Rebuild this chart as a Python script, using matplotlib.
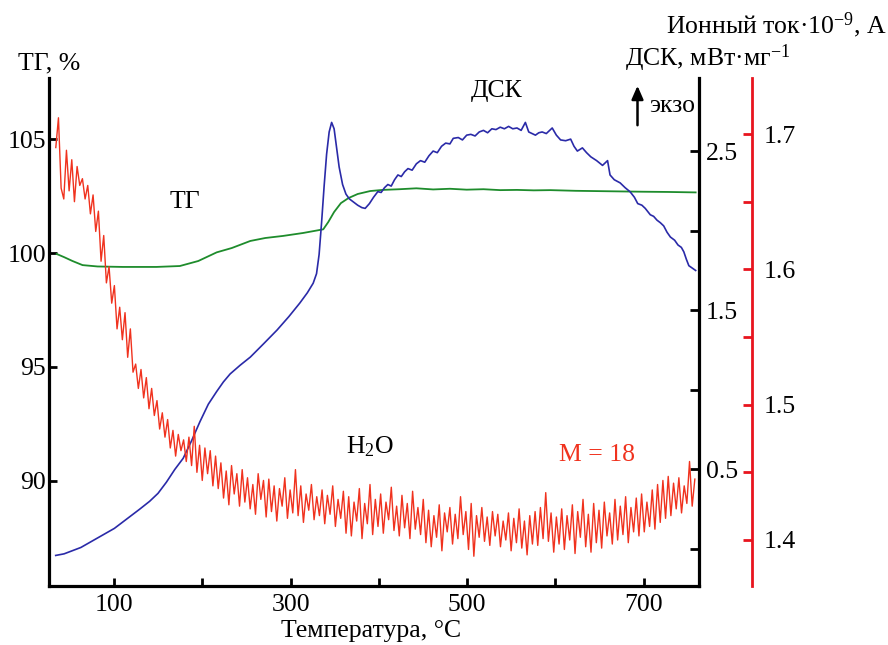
import matplotlib
matplotlib.use('Agg')
import matplotlib.pyplot as plt
import numpy as np

plt.rcParams['font.family'] = ['Liberation Serif', 'DejaVu Serif']
plt.rcParams['mathtext.fontset'] = 'custom'
plt.rcParams['mathtext.rm'] = 'Liberation Serif'
plt.rcParams['mathtext.it'] = 'Liberation Serif:italic'

# ---------------- data ----------------
# TG, %
tg_temp = [34.9, 43.4, 52.9, 64.3, 81.4, 109.9, 147.9, 174.5, 195.4, 216.3, 233.4,
           254.4, 271.4, 291.4, 314.2, 337.0, 342.7, 349.3, 357.0, 365.5, 376.0,
           390.2, 404.5, 423.5, 442.5, 461.5, 480.5, 499.5, 518.5, 537.5, 556.5,
           575.5, 594.5, 623.0, 661.0, 699.0, 727.5, 758.9]
tg_mass = [99.96, 99.82, 99.65, 99.47, 99.41, 99.39, 99.39, 99.43, 99.65, 100.03,
           100.22, 100.53, 100.66, 100.75, 100.88, 101.04, 101.36, 101.80, 102.19,
           102.41, 102.59, 102.72, 102.77, 102.80, 102.84, 102.79, 102.82, 102.78,
           102.80, 102.76, 102.77, 102.75, 102.76, 102.73, 102.71, 102.69, 102.68, 102.66]

# DSC, mW/mg
dsc_temp = [33.9, 43.4, 52.9, 62.4, 71.9, 81.4, 90.9, 100.4, 109.9, 119.4, 128.9,
            140.3, 149.8, 159.3, 168.8, 178.3, 187.8, 197.3, 206.8, 216.3, 223.9,
            231.5, 242.9, 254.4, 269.5, 284.7, 298.0, 310.4, 319.0, 325.6, 329.4,
            332.3, 335.1, 338.0, 340.8, 343.7, 346.5, 349.3, 352.2, 355.0, 358.9,
            362.7, 366.5, 371.2, 376.0, 380.7, 384.5, 389.3, 394.0, 398.8, 402.6,
            406.4, 410.2, 414.0, 417.8, 421.6, 425.4, 429.2, 433.0, 437.7, 442.5,
            447.2, 452.0, 456.7, 461.5, 466.2, 471.0, 475.7, 480.5, 484.3, 490.0,
            494.7, 499.5, 504.2, 509.0, 513.7, 518.5, 523.2, 528.0, 532.7, 537.5,
            542.2, 547.0, 551.7, 556.5, 561.2, 566.0, 569.8, 573.6, 577.4, 581.2,
            585.0, 589.7, 596.4, 601.1, 605.9, 611.6, 617.3, 621.1, 624.9, 630.6,
            635.3, 640.1, 646.7, 653.4, 659.1, 661.9, 666.7, 673.4, 679.0, 684.7,
            689.5, 693.3, 698.0, 701.8, 707.5, 711.3, 715.1, 718.9, 722.7, 726.5,
            730.3, 735.1, 738.9, 742.7, 745.5, 748.4, 751.2, 755.0, 758.9]
dsc_val = [-0.04, -0.03, -0.01, 0.01, 0.04, 0.07, 0.10, 0.13, 0.17, 0.21, 0.25,
           0.30, 0.35, 0.42, 0.50, 0.57, 0.68, 0.80, 0.91, 0.99, 1.05, 1.10, 1.155,
           1.206, 1.29, 1.376, 1.46, 1.545, 1.61, 1.67, 1.73, 1.85, 2.05, 2.28,
           2.48, 2.62, 2.68, 2.64, 2.52, 2.40, 2.29, 2.23, 2.20, 2.18, 2.16, 2.145,
           2.14, 2.17, 2.21, 2.245, 2.24, 2.27, 2.29, 2.28, 2.32, 2.35, 2.34, 2.37,
           2.39, 2.38, 2.42, 2.44, 2.43, 2.47, 2.50, 2.49, 2.53, 2.55, 2.545, 2.58,
           2.585, 2.57, 2.60, 2.605, 2.595, 2.62, 2.63, 2.615, 2.64, 2.635, 2.65,
           2.64, 2.655, 2.64, 2.645, 2.63, 2.68, 2.62, 2.61, 2.60, 2.615, 2.62,
           2.61, 2.645, 2.60, 2.57, 2.565, 2.575, 2.53, 2.50, 2.52, 2.49, 2.464,
           2.44, 2.41, 2.44, 2.35, 2.32, 2.30, 2.27, 2.244, 2.21, 2.17, 2.16, 2.14,
           2.10, 2.09, 2.066, 2.05, 2.03, 1.99, 1.96, 1.94, 1.91, 1.895, 1.867,
           1.82, 1.78, 1.765, 1.75]

# Ion current (M = 18), 1e-9 A, evenly sampled from 34 to 758 degC
ms_val = [
    1.690, 1.712, 1.660, 1.652, 1.688, 1.658, 1.681, 1.650, 1.676, 1.662,
    1.667, 1.652, 1.662, 1.641, 1.655, 1.628, 1.643, 1.606, 1.625, 1.590,
    1.602, 1.575, 1.588, 1.556, 1.572, 1.548, 1.568, 1.535, 1.556, 1.524,
    1.530, 1.512, 1.526, 1.505, 1.520, 1.497, 1.512, 1.492, 1.503, 1.482,
    1.494, 1.476, 1.489, 1.468, 1.481, 1.462, 1.478, 1.466, 1.474, 1.458,
    1.476, 1.455, 1.484, 1.450, 1.470, 1.444, 1.468, 1.449, 1.466, 1.440,
    1.462, 1.438, 1.457, 1.431, 1.451, 1.426, 1.455, 1.434, 1.449, 1.425,
    1.452, 1.428, 1.446, 1.423, 1.441, 1.419, 1.449, 1.430, 1.444, 1.417,
    1.445, 1.421, 1.440, 1.414, 1.438, 1.425, 1.446, 1.416, 1.437, 1.420,
    1.452, 1.418, 1.440, 1.413, 1.434, 1.422, 1.441, 1.415, 1.432, 1.418,
    1.437, 1.412, 1.433, 1.419, 1.440, 1.410, 1.430, 1.416, 1.436, 1.405,
    1.432, 1.403, 1.428, 1.414, 1.438, 1.401, 1.427, 1.412, 1.441, 1.404,
    1.430, 1.410, 1.434, 1.405, 1.428, 1.415, 1.439, 1.407, 1.425, 1.403,
    1.433, 1.409, 1.427, 1.401, 1.436, 1.408, 1.424, 1.404, 1.430, 1.398,
    1.422, 1.395, 1.418, 1.402, 1.426, 1.392, 1.420, 1.406, 1.424, 1.397,
    1.419, 1.401, 1.432, 1.404, 1.421, 1.393, 1.427, 1.388, 1.418, 1.402,
    1.424, 1.399, 1.417, 1.396, 1.421, 1.403, 1.419, 1.395, 1.414, 1.400,
    1.420, 1.392, 1.416, 1.398, 1.423, 1.394, 1.414, 1.389, 1.418, 1.397,
    1.421, 1.396, 1.424, 1.401, 1.435, 1.399, 1.420, 1.391, 1.417, 1.397,
    1.423, 1.393, 1.418, 1.400, 1.426, 1.390, 1.421, 1.402, 1.430, 1.395,
    1.419, 1.391, 1.427, 1.398, 1.422, 1.394, 1.428, 1.403, 1.420, 1.397,
    1.430, 1.400, 1.425, 1.404, 1.432, 1.398, 1.424, 1.406, 1.431, 1.403,
    1.434, 1.406, 1.428, 1.410, 1.437, 1.408, 1.441, 1.413, 1.444, 1.416,
    1.447, 1.418, 1.442, 1.423, 1.446, 1.420, 1.440, 1.427, 1.458, 1.425, 1.445]
ms_temp = np.linspace(34, 758, len(ms_val))

x_ticks = [100, 200, 300, 400, 500, 600, 700]
x_labels = ['100', '', '300', '', '500', '', '700']
tg_ticks = [90, 95, 100, 105]
dsc_ticks = [0.0, 0.5, 1.0, 1.5, 2.0, 2.5]
dsc_labels = ['', '0.5', '', '1.5', '', '2.5']
ms_ticks = [1.40, 1.45, 1.50, 1.55, 1.60, 1.65, 1.70]
ms_labels = ['1.4', '', '1.5', '', '1.6', '', '1.7']

# ---------------- styling ----------------
W, H = 888, 645
FS = 18.5
C_RED = '#f0321e'
C_RED_AX = '#e8141e'
C_BLUE = '#2a2aa8'
C_GREEN = '#1e8c2c'
LW_SP = 2.3

fig = plt.figure(figsize=(W / 100, H / 100), dpi=100)
ax = fig.add_axes([49 / W, 1 - 586 / H, (699 - 49) / W, (586 - 78) / H])
ax2 = ax.twinx()
ax3 = ax.twinx()

ax.plot(tg_temp, tg_mass, color=C_GREEN, lw=1.3, zorder=2)
ax2.plot(dsc_temp, dsc_val, color=C_BLUE, lw=1.2, zorder=2)
ax3.plot(ms_temp, ms_val, color=C_RED, lw=1.0, zorder=3)

ax.set_xlim(26.3, 762.7)
ax.set_ylim(85.39, 107.68)
ax2.set_ylim(-0.232, 2.959)
ax3.set_ylim(1.366, 1.7414)

for a in (ax, ax2, ax3):
    a.spines['top'].set_visible(False)
    a.patch.set_visible(False)

ax.spines['right'].set_visible(False)
ax.spines['left'].set_linewidth(LW_SP)
ax.spines['bottom'].set_linewidth(LW_SP)
for s in ('left', 'bottom'):
    ax2.spines[s].set_visible(False)
    ax3.spines[s].set_visible(False)
ax2.spines['right'].set_linewidth(LW_SP)
ax3.spines['right'].set_position(('outward', 38.5))
ax3.spines['right'].set_color(C_RED_AX)
ax3.spines['right'].set_linewidth(2.0)

ax.set_xticks(x_ticks)
ax.set_xticklabels(x_labels)
ax.set_yticks(tg_ticks)
ax.set_yticklabels([str(v) for v in tg_ticks])
ax.tick_params(axis='x', direction='in', length=6, width=2.0, labelsize=FS, pad=6)
ax.tick_params(axis='y', direction='in', length=6, width=2.0, labelsize=FS, pad=2)

ax2.set_yticks(dsc_ticks)
ax2.set_yticklabels(dsc_labels)
ax2.tick_params(axis='y', direction='in', length=6.5, width=2.0, labelsize=FS, pad=5)

ax3.set_yticks(ms_ticks)
ax3.set_yticklabels(ms_labels)
ax3.tick_params(axis='y', direction='in', length=6.5, width=2.0, labelsize=FS,
                pad=8, color=C_RED_AX)

def fx(px):
    return px / W

def fy(py):
    return 1 - py / H

fig.text(fx(18), fy(63), 'ТГ, %', fontsize=FS, ha='left', va='center')
fig.text(fx(887), fy(25), 'Ионный ток·10$^{-9}$, А', fontsize=FS, ha='right', va='center')
fig.text(fx(625), fy(58), 'ДСК, мВт·мг$^{-1}$', fontsize=FS, ha='left', va='center')
fig.text(fx(497), fy(91), 'ДСК', fontsize=FS, ha='center', va='center')
fig.text(fx(649), fy(106), 'экзо', fontsize=FS, ha='left', va='center')
fig.text(fx(185), fy(202), 'ТГ', fontsize=FS, ha='center', va='center')
fig.text(fx(370), fy(447), 'H$_2$O', fontsize=FS, ha='center', va='center')
fig.text(fx(597), fy(455), 'M = 18', fontsize=FS, ha='center', va='center', color=C_RED)
fig.text(fx(371), fy(631), 'Температура, °С', fontsize=FS, ha='center', va='center')

fig.patches.append(matplotlib.patches.FancyArrowPatch(
    (fx(637.5), fy(128)), (fx(637.5), fy(83)), transform=fig.transFigure,
    arrowstyle='-|>,head_length=8,head_width=3.5', color='black', lw=1.8,
    mutation_scale=1))

fig.savefig('out.png', dpi=100)
